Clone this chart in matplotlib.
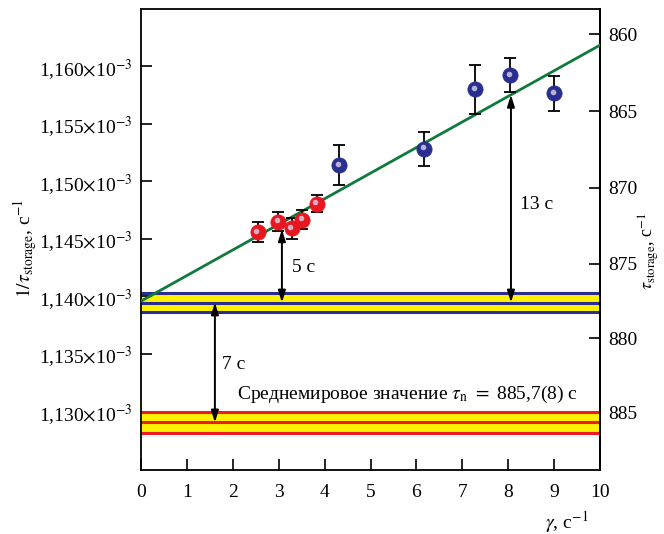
import numpy as np
import matplotlib
matplotlib.use("Agg")
import matplotlib.pyplot as plt
from matplotlib import transforms

plt.rcParams['font.family'] = ['Liberation Serif', 'DejaVu Serif']
plt.rcParams['mathtext.fontset'] = 'stix'

# --- data (1/tau in units of 1e-3 s^-1, gamma in s^-1) ---
red_gamma = [2.54, 2.99, 3.28, 3.51, 3.83]
red_inv_tau = [1.14559, 1.14650, 1.14591, 1.14667, 1.14806]
red_err = [0.00088, 0.00080, 0.00091, 0.00084, 0.00076]

blue_gamma = [4.32, 6.17, 7.28, 8.04, 9.00]
blue_inv_tau = [1.15142, 1.15284, 1.15798, 1.15922, 1.15765]
blue_err = [0.00170, 0.00148, 0.00215, 0.00150, 0.00154]

fit_intercept = 1.13959   # 1/tau at gamma = 0
fit_slope = 0.002224      # per s^-1

tau_fit, tau_fit_err = 877.6, 0.65
tau_world, tau_world_err = 885.7, 0.72

left_ticks = [1.130, 1.135, 1.140, 1.145, 1.150, 1.155, 1.160]
left_tick_labels = ["1,130", "1,135", "1,140", "1,145", "1,150", "1,155", "1,160"]
right_ticks = [860, 865, 870, 875, 880, 885]
x_ticks = list(range(0, 11))

arrow_5s = (3.07, 1.14583)       # gamma, top value (bottom at band centre)
arrow_13s = 8.06                 # to fit line
arrow_7s = 1.61                  # between band centres

fig = plt.figure(figsize=(6.64, 5.34), dpi=100)
ax = fig.add_axes([141/664, 1-470/534, 459/664, 461/534])

FS = 14
xlim = (0, 10)
ax.set_xlim(*xlim)
ax.set_ylim(1.12492, 1.16497)

yellow = '#fff200'
navy = '#2b2e8c'
red = '#ed1c24'

def band(tau, err, lc):
    y0 = 1000.0 / tau
    hi = 1000.0 / (tau - err)
    lo = 1000.0 / (tau + err)
    ax.axhspan(lo, hi, color=yellow, lw=0, zorder=1)
    for v in (lo, y0, hi):
        ax.axhline(v, color=lc, lw=2.2, zorder=2)
    return y0

yb = band(tau_fit, tau_fit_err, navy)
yr = band(tau_world, tau_world_err, red)

gx = np.array(xlim, dtype=float)
ax.plot(gx, fit_intercept + fit_slope * gx, color='#0f7a3c', lw=2, zorder=3)

def points(gam, val, err, color):
    ax.errorbar(gam, val, yerr=err, fmt='none', ecolor='black', elinewidth=1.3,
                capsize=4.5, capthick=1.3, zorder=4)
    ax.plot(gam, val, 'o', ms=11, mfc=color, mec=color, mew=0.5, zorder=5)
    tr = transforms.offset_copy(ax.transData, fig=fig, x=-1.0, y=1.0, units='points')
    ax.plot(gam, val, 'o', ms=4, mfc='#dcd2ea', mec='none', alpha=0.8,
            transform=tr, zorder=6)

points(red_gamma, red_inv_tau, red_err, '#e8161e')
points(blue_gamma, blue_inv_tau, blue_err, '#2a2f8f')

ap = dict(arrowstyle='<|-|>,head_length=0.7,head_width=0.22', lw=1.4,
          color='black', shrinkA=0, shrinkB=0)
ax.annotate('', xy=(arrow_5s[0], arrow_5s[1]), xytext=(arrow_5s[0], yb),
            arrowprops=ap, zorder=7)
ax.annotate('', xy=(arrow_13s, fit_intercept + fit_slope * arrow_13s),
            xytext=(arrow_13s, yb), arrowprops=ap, zorder=7)
ax.annotate('', xy=(arrow_7s, yb), xytext=(arrow_7s, yr), arrowprops=ap, zorder=7)

ax.text(3.3, 1.14252, '5 с', fontsize=FS, va='center', ha='left')
ax.text(8.26, 1.14800, '13 с', fontsize=FS, va='center', ha='left')
ax.text(1.76, 1.13409, '7 с', fontsize=FS, va='center', ha='left')
ax.text(2.09, 1.13148, r'Среднемировое значение $\tau_{\mathrm{n}}$ $=$ 885,7(8) с',
        fontsize=FS, va='center', ha='left')

ax.set_xticks(x_ticks)
ax.set_xticklabels([str(t) for t in x_ticks], fontsize=FS)
ax.set_yticks(left_ticks)
ax.set_yticklabels([l + r'$\times$10$^{-3}$' for l in left_tick_labels], fontsize=FS)
ax.tick_params(axis='x', direction='in', length=8, width=1.2, pad=10)
ax.tick_params(axis='y', direction='in', length=8, width=1.2, pad=6)
for s in ax.spines.values():
    s.set_linewidth(1.3)

sec = ax.secondary_yaxis('right', functions=(lambda y: 1000.0 / y, lambda t: 1000.0 / t))
sec.set_yticks(right_ticks)
sec.set_yticklabels([str(t) for t in right_ticks], fontsize=FS)
sec.tick_params(axis='y', direction='in', length=8, width=1.2, pad=6)
sec.minorticks_off()
sec.spines['right'].set_linewidth(1.3)

ax.set_xlabel(r'$\gamma$, с$^{-1}$', fontsize=FS)
ax.xaxis.set_label_coords(0.928, -0.085)
ax.set_ylabel(r'$1/\tau_{\mathrm{storage}}$, с$^{-1}$', fontsize=FS)
ax.yaxis.set_label_coords(-0.222, 0.48)
ax.text(1.079, 0.475, r'$\tau_{\mathrm{storage}}$, с$^{-1}$', fontsize=13,
        rotation=90, ha='left', va='center', transform=ax.transAxes)

fig.savefig('out.png', dpi=100)
